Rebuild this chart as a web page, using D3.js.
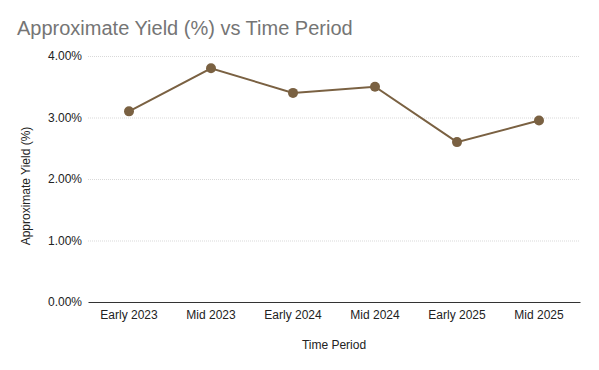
<!DOCTYPE html>
<html><head><meta charset="utf-8">
<script src="https://cdn.jsdelivr.net/npm/d3@7"></script>
<style>body{margin:0;background:#fff;font-family:Arial,"Liberation Sans",sans-serif;}</style>
</head><body><svg id="c" width="599" height="370"></svg>
<script>
const categories = ["Early 2023","Mid 2023","Early 2024","Mid 2024","Early 2025","Mid 2025"];
const yields = [3.1, 3.8, 3.4, 3.5, 2.6, 2.95];
const yTicks = [0, 1, 2, 3, 4];

const svg = d3.select("#c");
const m = {l:88, r:19, t:56, b:68};
const W = 599, H = 370;
const x = d3.scaleBand().domain(categories).range([m.l, W - m.r]);
const y = d3.scaleLinear().domain([0, 4]).range([H - m.b, m.t]);

svg.append("rect").attr("width", W).attr("height", H).attr("fill", "#fff");

svg.append("text").attr("x", 17).attr("y", 35).attr("fill", "#757575")
  .attr("font-size", 20).text("Approximate Yield (%) vs Time Period");

const grid = svg.append("g");
grid.selectAll("line").data(yTicks.filter(d => d > 0)).join("line")
  .attr("x1", m.l).attr("x2", W - m.r)
  .attr("y1", d => y(d) + 0.5).attr("y2", d => y(d) + 0.5)
  .attr("stroke", "#d9d9d9").attr("stroke-dasharray", "1,1");

const yAxis = svg.append("g").attr("transform", `translate(${m.l},0)`)
  .call(d3.axisLeft(y).tickValues(yTicks).tickSize(0).tickPadding(6).tickFormat(d => d.toFixed(2) + "%"));
yAxis.select(".domain").remove();
yAxis.selectAll("text").attr("font-size", 12).attr("fill", "#222").attr("font-family", "Arial,'Liberation Sans',sans-serif");

const xAxis = svg.append("g").attr("transform", `translate(0,${y(0)})`)
  .call(d3.axisBottom(x).tickSize(0).tickPadding(8));
xAxis.select(".domain").attr("stroke", "#333").attr("stroke-width", 1);
xAxis.selectAll("text").attr("font-size", 12).attr("fill", "#222").attr("font-family", "Arial,'Liberation Sans',sans-serif");

svg.append("text").attr("x", (m.l + W - m.r) / 2).attr("y", 349).attr("text-anchor", "middle")
  .attr("font-size", 12).attr("fill", "#222").text("Time Period");

svg.append("text").attr("transform", `translate(30,186) rotate(-90)`)
  .attr("text-anchor", "middle").attr("font-size", 12).attr("fill", "#222").text("Approximate Yield (%)");

const color = "#7a6142";
const line = d3.line().x((d, i) => x(categories[i]) + x.bandwidth() / 2).y(d => y(d));
svg.append("path").datum(yields).attr("d", line).attr("fill", "none")
  .attr("stroke", color).attr("stroke-width", 2);
svg.selectAll("circle.pt").data(yields).join("circle").attr("class", "pt")
  .attr("cx", (d, i) => x(categories[i]) + x.bandwidth() / 2).attr("cy", d => y(d))
  .attr("r", 5).attr("fill", color);
</script></body></html>
